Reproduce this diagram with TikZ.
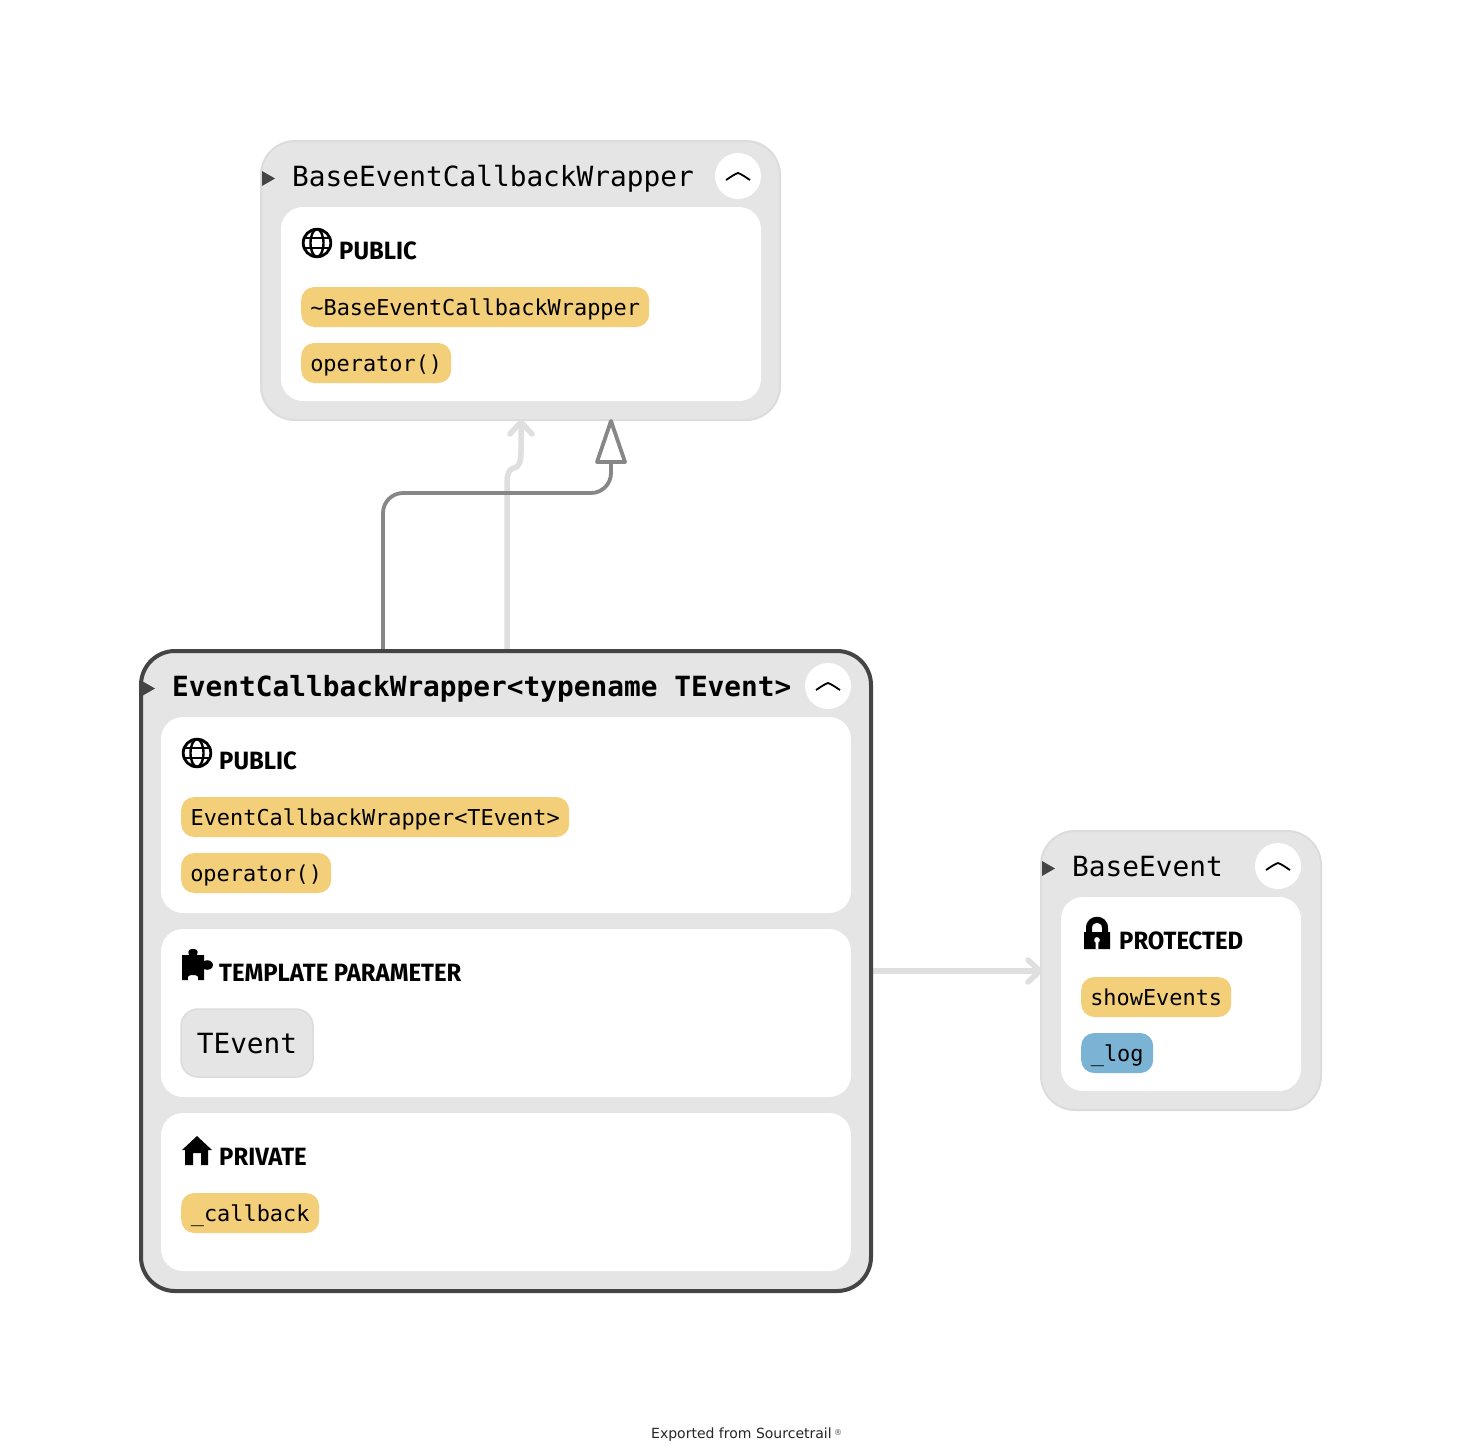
\documentclass[tikz,border=0pt]{standalone}
\usepackage{fontspec}
\setmainfont{DejaVu Sans}
\setmonofont{DejaVu Sans Mono}
\newfontfamily\headfont[FakeStretch=0.955]{Fira Sans Bold}
\usetikzlibrary{calc}
\definecolor{boxfill}{HTML}{E5E5E5}
\definecolor{boxline}{HTML}{DCDCDC}
\definecolor{activeline}{HTML}{444444}
\definecolor{funcfill}{HTML}{F4CF7A}
\definecolor{varfill}{HTML}{7AB3D4}
\definecolor{edgelight}{HTML}{DFDFDF}
\definecolor{edgedark}{HTML}{878787}
\tikzset{
  x=1pt,y=-1pt,
  outerbox/.style={draw=boxline,line width=2pt,fill=boxfill,rounded corners=34pt},
  activebox/.style={draw=activeline,line width=4pt,fill=boxfill,rounded corners=34pt},
  innerbox/.style={fill=white,rounded corners=22pt},
  pill/.style={rectangle,rounded corners=13pt,fill=funcfill,inner sep=0pt,minimum height=40pt,anchor=west,text height=17pt,text depth=0pt,font=\ttfamily\fontsize{21.9}{22}\selectfont,text=black},
  varpill/.style={pill,fill=varfill},
  title/.style={anchor=base west,inner sep=0pt,font=\ttfamily\fontsize{27.8}{28}\selectfont,text=black},
  head/.style={anchor=base west,inner sep=0pt,font=\headfont\fontsize{25}{25}\selectfont,text=black},
  tri/.style={fill=activeline},
  collapse/.style={circle,fill=white,minimum size=46pt,inner sep=0pt},
  chev/.style={draw=black,line width=1.8pt,line join=round},
  lightedge/.style={draw=edgelight,line width=5.5pt,line cap=round,line join=round},
  darkedge/.style={draw=edgedark,line width=3.8pt,line join=round},
  globe/.pic={
    \draw[line width=2.8pt] (0,0) circle[radius=13.8pt];
    \draw[line width=2.4pt] (0,0) ellipse[x radius=6.5pt,y radius=13.8pt];
    \draw[line width=2.4pt] (-13,-5)--(13,-5) (-13,5)--(13,5);
  }
}
\newcommand{\chevron}[2]{\draw[chev] (#1-12,#2+3) .. controls (#1-6,#2-1) and (#1-3,#2-3) .. (#1,#2-4) .. controls (#1+3,#2-3) and (#1+6,#2-1) .. (#1+12,#2+3);}
\begin{document}
\begin{tikzpicture}
\useasboundingbox (0,0) rectangle (1482,1452);
\fill[white] (0,0) rectangle (1482,1452);

% ---------- connector end points
\coordinate (inhTop) at (611,421);
\coordinate (inhBase) at (611,462);
\coordinate (inhFrom) at (383,651);
\coordinate (useFrom) at (507,651);
\coordinate (useTo) at (521,422);
\coordinate (memFrom) at (873,971);
\coordinate (memTo) at (1040,971);

% ---------- BaseEventCallbackWrapper
\draw[outerbox] (261,141) rectangle (780,420);
\fill[innerbox] (281,207) rectangle (761,401);
\fill[tri] (262,171)--(275,178.5)--(262,186)--cycle;
\node[title] (titleA) at (292,186) {BaseEventCallbackWrapper};
\node[collapse] (colA) at (738,176) {};
\chevron{738}{177}
\pic at (317,243) {globe};
\node[head] (pubA) at (339,259) {PUBLIC};
\node[pill,minimum width=348pt] (dtor) at (301,307) {\~{}BaseEventCallbackWrapper};
\node[pill,minimum width=150pt] (opA) at (301,363) {operator()};

% ---------- edges
\draw[lightedge] (useFrom) -- (507,482) .. controls (507,472) and (510,469) .. (514,468) .. controls (519,467) and (521,462) .. (521,452) -- (useTo);
\draw[lightedge] (510,434) -- (useTo) -- (532,434);
\draw[darkedge,rounded corners=20pt] (inhFrom) -- (383,493) -- (611,493) -- (inhBase);
\draw[darkedge,fill=white] (inhTop) -- (625,462) -- (597,462) -- cycle;
\draw[lightedge,line cap=butt] (memFrom) -- (1036,971);
\draw[lightedge] (1028,960) -- (memTo) -- (1028,982);

% ---------- EventCallbackWrapper
\draw[activebox] (141,651) rectangle (871,1291);
\fill[innerbox] (161,717) rectangle (851,913);
\fill[innerbox] (161,929) rectangle (851,1097);
\fill[innerbox] (161,1113) rectangle (851,1271);
\fill[tri] (142,681)--(155,688.5)--(142,696)--cycle;
\node[title,font=\ttfamily\bfseries\fontsize{27.8}{28}\selectfont] (titleB) at (172,696) {EventCallbackWrapper<typename TEvent>};
\node[collapse] (colB) at (828,686) {};
\chevron{828}{687}
\pic at (197,753) {globe};
\node[head] (pubB) at (219,769) {PUBLIC};
\node[pill,minimum width=388pt] (ctor) at (181,817) {EventCallbackWrapper<TEvent>};
\node[pill,minimum width=150pt] (opB) at (181,873) {operator()};
% puzzle
\fill (182,955) -- (189,955) .. controls (187,950) and (190,949) .. (193,949) .. controls (196,949) and (199,950) .. (197,955) -- (204,955) -- (204,961)
  .. controls (208,959) and (213,961) .. (213,965) .. controls (213,969) and (208,971) .. (204,969) -- (204,980) -- (198,980)
  .. controls (199,976) and (197,975) .. (193,975) .. controls (189,975) and (187,976) .. (188,980) -- (182,980) -- cycle;
\node[head] (tplHead) at (219,981) {TEMPLATE PARAMETER};
\node[rectangle,draw=boxline,line width=1.5pt,fill=boxfill,rounded corners=17pt,minimum width=132pt,minimum height=68pt,inner sep=0pt,text height=21pt,text depth=0pt,font=\ttfamily\fontsize{27.8}{28}\selectfont] (tev) at (247,1043) {TEvent};
% house
\fill (197,1136) -- (212,1150) -- (208,1150) -- (208,1165) -- (201,1165) -- (201,1153) -- (193,1153) -- (193,1165) -- (185,1165) -- (185,1150) -- (182,1150) -- cycle;
\node[head] (privHead) at (219,1165) {PRIVATE};
\node[pill,minimum width=138pt] (cb) at (181,1213) {\_callback};

% ---------- BaseEvent
\draw[outerbox] (1041,831) rectangle (1321,1110);
\fill[innerbox] (1061,897) rectangle (1301,1091);
\fill[tri] (1042,861)--(1055,868.5)--(1042,876)--cycle;
\node[title] (titleC) at (1072,876) {BaseEvent};
\node[collapse] (colC) at (1278,866) {};
\chevron{1278}{867}
% lock
\fill[even odd rule] (1084,932) -- (1086,932) -- (1086,928) .. controls (1086,913) and (1108,913) .. (1108,928) -- (1108,932) -- (1110,932) -- (1110,949) -- (1084,949) -- cycle
  (1092,932) -- (1102,932) -- (1102,928) .. controls (1102,921) and (1092,921) .. (1092,928) -- cycle
  (1095.7,949) -- (1098.3,949) -- (1098.3,943) .. controls (1101,941) and (1100,937) .. (1097,937) .. controls (1094,937) and (1093,941) .. (1095.7,943) -- cycle;
\node[head] (protHead) at (1119,949) {PROTECTED};
\node[pill,minimum width=150pt] (show) at (1081,997) {showEvents};
\node[varpill,minimum width=72pt] (logv) at (1081,1053) {\_log};

% ---------- footer
\node[anchor=base west,inner sep=0pt,font=\fontsize{14}{15}\selectfont,text=black!85] (foot) at (651,1438) {Exported from Sourcetrail};
\node[anchor=base west,inner sep=0pt,font=\fontsize{8}{8}\selectfont,text=black!70] (reg) at (834,1435) {®};
\end{tikzpicture}
\end{document}
